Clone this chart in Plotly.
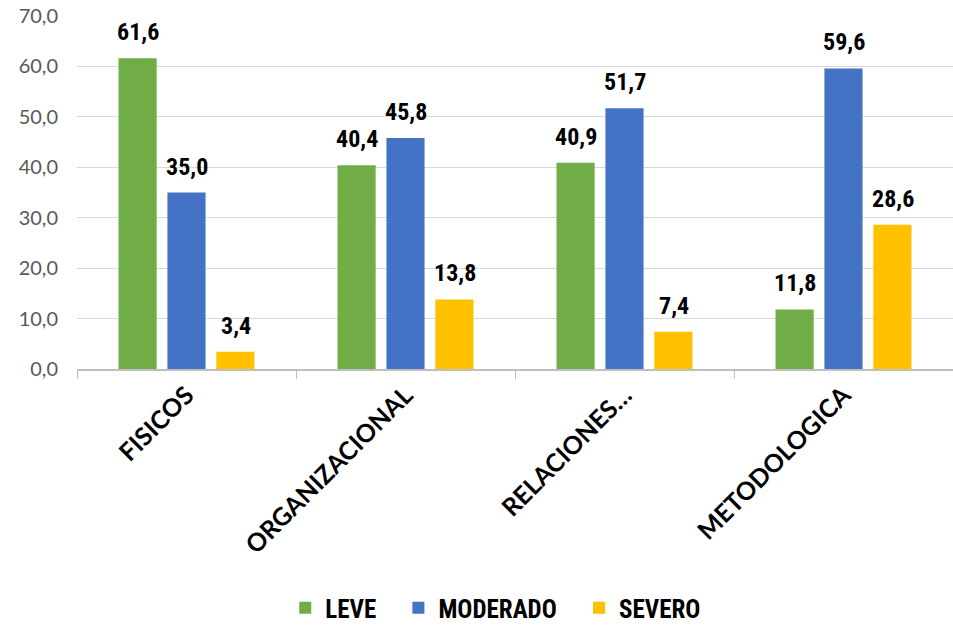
import plotly.graph_objects as go

categories = ["FISICOS", "ORGANIZACIONAL", "RELACIONES…", "METODOLOGICA"]
series_names = ["LEVE", "MODERADO", "SEVERO"]
leve = [61.6, 40.4, 40.9, 11.8]
moderado = [35.0, 45.8, 51.7, 59.6]
severo = [3.4, 13.8, 7.4, 28.6]
colors = ["#70AD47", "#4472C4", "#FFC000"]
y_ticks = [0, 10, 20, 30, 40, 50, 60, 70]

series = [leve, moderado, severo]
label_font = "Liberation Sans Narrow, Arial Narrow, Roboto Condensed, Liberation Sans, sans-serif"

fig = go.Figure()
for k, (name, vals, col) in enumerate(zip(series_names, series, colors)):
    pad = "&nbsp;&nbsp;&nbsp;" if k < len(series_names) - 1 else ""
    fig.add_trace(go.Bar(name="<b>%s</b>%s" % (name, pad), x=categories, y=vals,
                         marker=dict(color=col, line=dict(width=0))))

annotations = []
slot_px = 49
for i, vals in enumerate(series):
    for c, v in zip(categories, vals):
        annotations.append(dict(
            x=c, y=v, xref="x", yref="y", text="<b>%s</b>" % f"{v:.1f}".replace(".", ","),
            showarrow=False, xshift=(i - 1) * slot_px, yshift=10, yanchor="bottom",
            font=dict(family=label_font, size=24, color="#000000"),
        ))

fig.update_layout(
    width=953, height=631,
    margin=dict(l=77, r=0, t=16, b=261),
    paper_bgcolor="white", plot_bgcolor="white",
    barmode="group", bargap=0.33, bargroupgap=0.22,
    separators=",.",
    showlegend=True,
    legend=dict(orientation="h", x=0.478, xanchor="center", y=-0.678, yanchor="middle",
                font=dict(family=label_font, size=25, color="#000000"),
                itemsizing="constant", traceorder="normal"),
    annotations=annotations,
)
fig.update_yaxes(range=[0, 70], tickvals=y_ticks, tickformat=".1f",
                 showgrid=True, gridcolor="#D9D9D9", gridwidth=1.3,
                 zeroline=False, showline=False, ticks="",
                 ticklabelstandoff=18,
                 tickfont=dict(family="Lato, Carlito, Calibri, sans-serif", size=20, color="#595959"))
fig.update_xaxes(showline=True, linecolor="#BFBFBF", linewidth=1.5,
                 ticks="outside", tickson="boundaries", ticklen=8, tickcolor="#BFBFBF",
                 tickangle=-45,
                 tickfont=dict(family="Lato, Carlito, Calibri, sans-serif", size=25, color="#000000", weight="bold"))

fig.write_html("out.html")
